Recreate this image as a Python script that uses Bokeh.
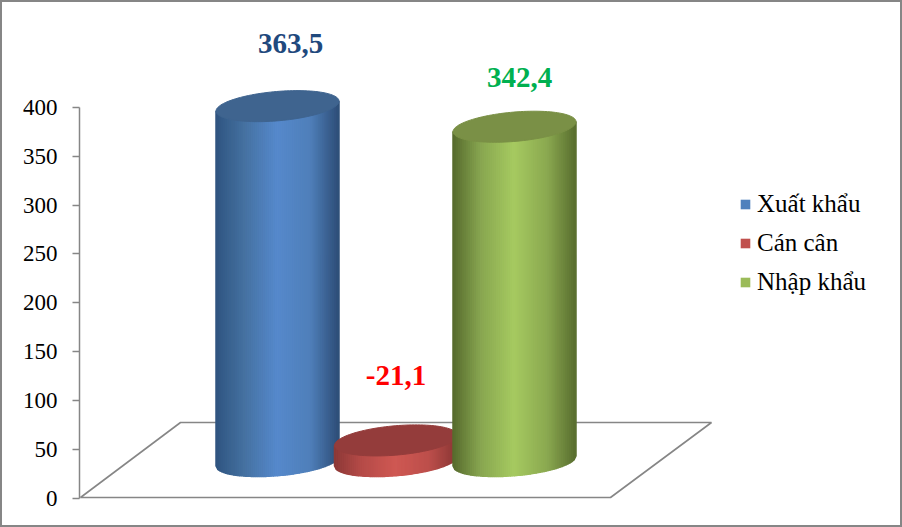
import numpy as np
from bokeh.embed import file_html
from bokeh.resources import INLINE
from bokeh.plotting import figure
from bokeh.models import Range1d, LinearAxis, Legend, LegendItem, FixedTicker
from bokeh.core.properties import value

# ---- data ----
categories = ["Xuất khẩu", "Cán cân", "Nhập khẩu"]
magnitudes = [363.5, 21.1, 342.4]
value_labels = ["363,5", "-21,1", "342,4"]
y_ticks = [0, 50, 100, 150, 200, 250, 300, 350, 400]

# ---- styles ----
label_colors = ["#1F497D", "#FF0000", "#00B050"]
legend_colors = ["#4F81BD", "#C0504D", "#9BBB59"]
top_colors = ["#3F648F", "#943C3B", "#7A9046"]
side_stops = [
    ["#2F5480", "#44709F", "#5689CC", "#4F7FB9", "#2E4E78"],
    ["#8C3836", "#B54B48", "#CF5853", "#BC4F4B", "#8A3634"],
    ["#55692C", "#87A550", "#A6CA60", "#8AA850", "#596E2F"],
]
GREY = "#868686"
SERIF = "Liberation Serif"

OFF = 2               # frame border thickness; the figure sits inside it
W, H = 902, 527
AXIS_PX = 79
RIGHT_PX, BOTTOM_PX = W - OFF, H - OFF
ZERO_PX, TOP_PX = 497.5, 107.0
PX_PER_UNIT = (ZERO_PX - TOP_PX) / 400
CAT_PX = 118.5
FIRST_CAT_PX = 277

x_range = Range1d((AXIS_PX - FIRST_CAT_PX) / CAT_PX, (RIGHT_PX - FIRST_CAT_PX) / CAT_PX)
y_range = Range1d((ZERO_PX - BOTTOM_PX) / PX_PER_UNIT, (ZERO_PX - OFF) / PX_PER_UNIT)

p = figure(width=W - 2 * OFF, height=H - 2 * OFF, output_backend="svg", toolbar_location=None,
           x_range=x_range, y_range=y_range, x_axis_location=None, y_axis_location=None,
           min_border_left=AXIS_PX - OFF, min_border_right=0, min_border_top=0, min_border_bottom=0,
           outline_line_color=None, background_fill_color="white", border_fill_color="white")
p.grid.visible = False
p.styles = {"position": "absolute", "left": f"{OFF}px", "top": f"{OFF}px",
            "outline": f"{OFF}px solid {GREY}"}

axis = LinearAxis(ticker=FixedTicker(ticks=y_ticks), bounds=(0, 400))
axis.axis_line_color = GREY
axis.axis_line_width = 1.5
axis.major_tick_line_color = GREY
axis.major_tick_line_width = 1.5
axis.major_tick_out = 7
axis.major_tick_in = 0
axis.minor_tick_line_color = None
axis.major_label_standoff = 15
axis.major_label_text_font = SERIF
axis.major_label_text_font_size = "23px"
axis.major_label_text_color = "#000000"
p.add_layout(axis, "left")


def d_x(px):
    return (px - FIRST_CAT_PX) / CAT_PX


def d_y(px):
    return (ZERO_PX - px) / PX_PER_UNIT


# floor of the 3-D box
p.patch([d_x(80), d_x(180), d_x(711), d_x(610)],
        [d_y(497), d_y(422), d_y(422), d_y(497)],
        fill_color=None, line_color=GREY, line_width=1.6)

HALF = 61.5 / CAT_PX
BASE = d_y(460.5)
MINOR = 14.7 / PX_PER_UNIT
SHEAR = 5.0 / PX_PER_UNIT
STOP_U = [-1, -0.55, 0.0, 0.55, 1]


def hex2rgb(c):
    return [int(c[i:i + 2], 16) for i in (1, 3, 5)]


for i, val in enumerate(magnitudes):
    top = BASE + val
    edges = np.linspace(-1, 1, 63)
    xs, ys, cols = [], [], []
    rgb = np.array([hex2rgb(c) for c in side_stops[i]], dtype=float)
    for u0, u1 in zip(edges[:-1], edges[1:]):
        um = (u0 + u1) / 2
        c = [int(round(np.interp(um, STOP_U, rgb[:, k]))) for k in range(3)]
        cols.append("#%02x%02x%02x" % tuple(c))
        xs.append([i + HALF * u0, i + HALF * u1, i + HALF * u1, i + HALF * u0])
        ys.append([top + SHEAR * u0, top + SHEAR * u1,
                   BASE + SHEAR * u1 - MINOR * np.sqrt(1 - u1 ** 2),
                   BASE + SHEAR * u0 - MINOR * np.sqrt(1 - u0 ** 2)])
    p.patches(xs, ys, fill_color=cols, line_color=cols, line_width=1.5)
    t = np.linspace(0, 2 * np.pi, 120)
    p.patch(i + HALF * np.cos(t), top + SHEAR * np.cos(t) + MINOR * np.sin(t),
            fill_color=top_colors[i], line_color=top_colors[i], line_width=1.0)

# value labels, hand placed above each cylinder
label_dx = [13, 0, 5]
label_dy = [63, 65, 49]
for i, val in enumerate(magnitudes):
    p.text([i], [BASE + val], text=[value_labels[i]], text_font=value(SERIF),
           text_font_size="29px", text_font_style="bold", text_color=label_colors[i],
           text_align="center", text_baseline="middle",
           x_offset=label_dx[i], y_offset=-label_dy[i])

items = []
for name, col in zip(categories, legend_colors):
    r = p.quad(left=[float("nan")], right=[float("nan")], bottom=[float("nan")], top=[float("nan")],
               fill_color=col, line_color=None)
    items.append(LegendItem(label=name, renderers=[r]))
legend = Legend(items=items, location=(660, 229),
                background_fill_alpha=0, border_line_color=None,
                glyph_width=12, glyph_height=12, spacing=11,
                label_text_font=SERIF, label_text_font_size="25px",
                label_text_color="#000000", label_standoff=6,
                margin=0, padding=10)
p.add_layout(legend, "center")

open("out.html", "w").write(file_html(p, INLINE))
